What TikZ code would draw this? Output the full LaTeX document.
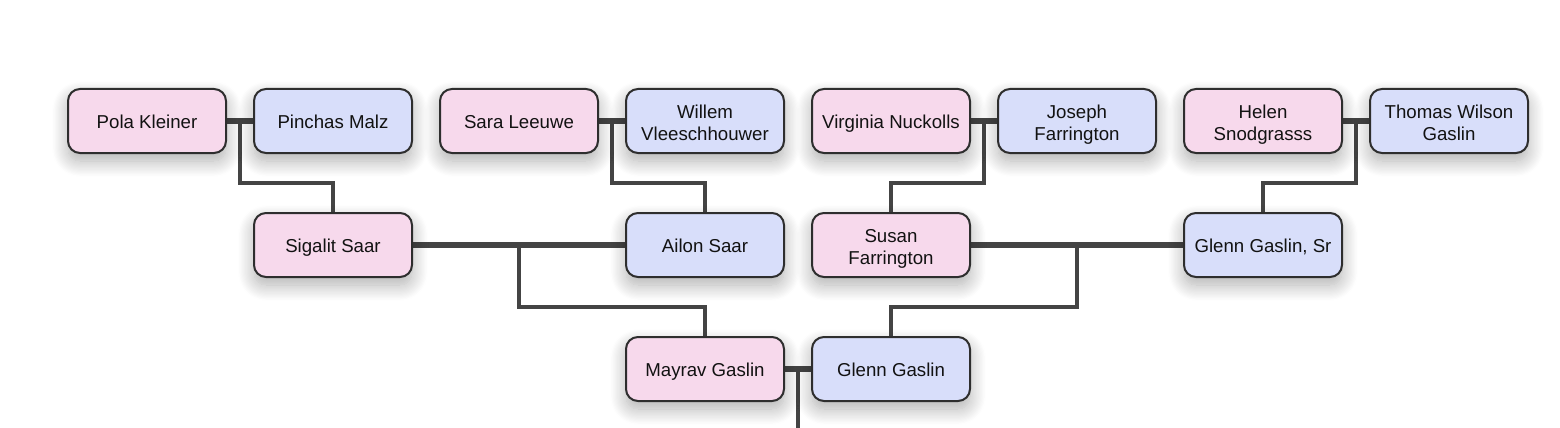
\documentclass[tikz,border=0pt]{standalone}
\usepackage{fontspec}
\setmainfont{Liberation Sans}
\usetikzlibrary{shadows.blur,backgrounds,calc}
\definecolor{pinkf}{HTML}{F7D9EC}
\definecolor{bluef}{HTML}{D8DEFA}
\definecolor{edge}{HTML}{2E2E2E}
\definecolor{linec}{HTML}{444444}
\tikzset{
  person/.style={draw=edge, line width=1.5pt, rounded corners=9pt,
    minimum width=118.5pt, minimum height=48pt, inner sep=2pt,
    align=center, font=\fontsize{14}{15.8}\selectfont, text=black!93,
    execute at begin node={\rule{0pt}{13.8pt}},
    execute at end node={\rule[-3pt]{0pt}{3pt}},
    blur shadow={shadow blur steps=14, shadow xshift=0pt, shadow yshift=-6pt,
      shadow opacity=32, shadow blur radius=12pt}},
  two/.style={text height=31.5pt, text depth=3pt},
  fem/.style={person, fill=pinkf},
  mal/.style={person, fill=bluef},
  couple/.style={draw=linec, line width=5.2pt},
  stem/.style={draw=linec, line width=3pt},
}
\begin{document}
\begin{tikzpicture}[x=0.75pt, y=-0.75pt]
\useasboundingbox (0,0) rectangle (1560,428);
% row 1
\node[fem] (pola)    at (147,121) {Pola Kleiner};
\node[mal] (pinchas) at (333,121) {Pinchas Malz};
\node[fem] (sara)    at (519,121) {Sara Leeuwe};
\node[mal,two] (willem)  at (705,121) {Willem\\Vleeschhouwer};
\node[fem] (virginia) at (891,121) {Virginia Nuckolls};
\node[mal,two] (joseph)  at (1077,121) {Joseph\\Farrington};
\node[fem,two] (helen)   at (1263,121) {Helen\\Snodgrasss};
\node[mal,two] (thomas)  at (1449,121) {Thomas Wilson\\Gaslin};
% row 2
\node[fem] (sigalit) at (333,245) {Sigalit Saar};
\node[mal] (ailon)   at (705,245) {Ailon Saar};
\node[fem,two] (susan)   at (891,245) {Susan\\Farrington};
\node[mal] (glennsr) at (1263,245) {Glenn Gaslin, Sr};
% row 3
\node[fem] (mayrav)  at (705,369) {Mayrav Gaslin};
\node[mal] (glenn)   at (891,369) {Glenn Gaslin};
\coordinate (bottom) at (798,428);
\begin{scope}[on background layer]
  \coordinate (m1) at ($(pola.east)!0.5!(pinchas.west)$);
  \coordinate (m2) at ($(sara.east)!0.5!(willem.west)$);
  \coordinate (m3) at ($(virginia.east)!0.5!(joseph.west)$);
  \coordinate (m4) at ($(helen.east)!0.5!(thomas.west)$);
  \coordinate (m5) at ($(sigalit.east)!0.5!(ailon.west)$);
  \coordinate (m6) at ($(susan.east)!0.5!(glennsr.west)$);
  \coordinate (m7) at ($(mayrav.east)!0.5!(glenn.west)$);
  \draw[stem] (m1) -- ++(0,62) -| (sigalit.north);
  \draw[stem] (m2) -- ++(0,62) -| (ailon.north);
  \draw[stem] (m3) -- ++(0,62) -| (susan.north);
  \draw[stem] (m4) -- ++(0,62) -| (glennsr.north);
  \draw[stem] (m5) -- ++(0,62) -| (mayrav.north);
  \draw[stem] (m6) -- ++(0,62) -| (glenn.north);
  \draw[stem] (m7) -- (bottom);
  \draw[couple] (pola.east) -- (pinchas.west);
  \draw[couple] (sara.east) -- (willem.west);
  \draw[couple] (virginia.east) -- (joseph.west);
  \draw[couple] (helen.east) -- (thomas.west);
  \draw[couple] (sigalit.east) -- (ailon.west);
  \draw[couple] (susan.east) -- (glennsr.west);
  \draw[couple] (mayrav.east) -- (glenn.west);
\end{scope}
\end{tikzpicture}
\end{document}
